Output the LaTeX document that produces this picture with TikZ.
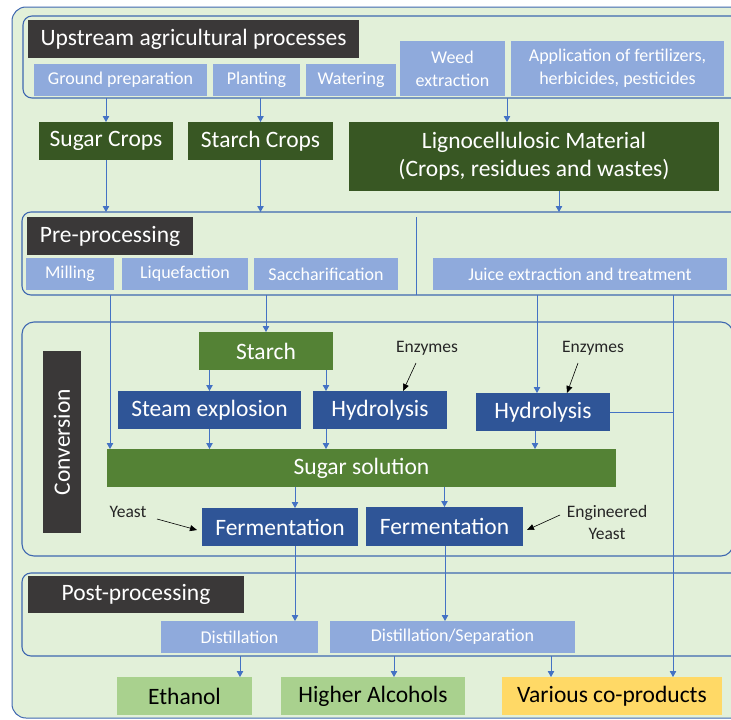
\documentclass[tikz,border=0pt]{standalone}
\usepackage{fontspec}
\setmainfont{Carlito}
\usetikzlibrary{arrows.meta,calc}
\definecolor{bgc}{HTML}{E2F0D9}
\definecolor{bordc}{HTML}{3F68B0}
\definecolor{connc}{HTML}{4472C4}
\definecolor{darkg}{HTML}{3A3838}
\definecolor{lblue}{HTML}{8FAADC}
\definecolor{dgreen}{HTML}{385723}
\definecolor{mgreen}{HTML}{548235}
\definecolor{dblue}{HTML}{2F5597}
\definecolor{lgreen}{HTML}{A9D18E}
\definecolor{yelc}{HTML}{FFD966}
\newcommand\bigf{\fontsize{23.5}{28}\selectfont}
\newcommand\smf{\fontsize{18}{23}\selectfont}
\newcommand\tinyf{\fontsize{17.5}{22}\selectfont}
\tikzset{
  bx/.style={inner sep=0pt, outer sep=0pt, align=center},
  grp/.style={bx, draw=bordc, line width=1.1pt, rounded corners=9pt},
  titlebox/.style={bx, fill=darkg, text=white, font=\bigf},
  lbbox/.style={bx, fill=lblue, text=white, font=\smf},
  dgbox/.style={bx, fill=dgreen, text=white, font=\bigf},
  mgbox/.style={bx, fill=mgreen, text=white, font=\bigf},
  dbbox/.style={bx, fill=dblue, text=white, font=\bigf},
  outbox/.style={bx, fill=lgreen, text=black, font=\bigf},
  yelbox/.style={bx, fill=yelc, text=black, font=\bigf},
  lbl/.style={bx, text=black!85, font=\tinyf},
  arr/.style={draw=connc, line width=0.8pt, -{Triangle[length=6pt,width=6.5pt]}},
  ln/.style={draw=connc, line width=0.8pt},
  barr/.style={draw=black, line width=0.6pt, -{Triangle[length=7pt,width=6pt]}}
}
\begin{document}
\begin{tikzpicture}[x=1pt,y=-1pt]
\useasboundingbox (0,0) rectangle (731,720);
\fill[white] (0,0) rectangle (731,720);
\clip (0,0) rectangle (731,720);
% outer panel
\draw[draw=bordc, fill=bgc, line width=1pt, rounded corners=14pt] (12,7) rectangle (760,718);

% group boxes
\node[grp, minimum width=722pt, minimum height=82pt] (upg) at (384,57) {};
\node[grp, minimum width=723pt, minimum height=83pt] (preg) at (383.5,253.5) {};
\node[grp, rounded corners=12pt, minimum width=711pt, minimum height=234pt] (convg) at (377.5,439) {};
\node[grp, minimum width=723pt, minimum height=83pt] (postg) at (383.5,614.5) {};

% upstream
\node[titlebox, minimum width=331pt, minimum height=38pt] (uptitle) at (193.5,39) {Upstream agricultural processes};
\node[lbbox, minimum width=173pt, minimum height=32pt] (ground) at (120.5,80) {Ground preparation};
\node[lbbox, minimum width=87pt, minimum height=32pt] (plant) at (256.5,80) {Planting};
\node[lbbox, minimum width=90pt, minimum height=32pt] (water) at (351,80) {Watering};
\node[lbbox, minimum width=105pt, minimum height=55pt] (weed) at (452.5,68.5) {Weed\\extraction};
\node[lbbox, minimum width=213pt, minimum height=55pt] (appl) at (617.5,68.5) {Application of fertilizers,\\herbicides, pesticides};

% crops
\node[dgbox, minimum width=134pt, minimum height=38pt] (sugarc) at (106,141) {Sugar Crops};
\node[dgbox, minimum width=145pt, minimum height=38pt] (starchc) at (260.5,141) {Starch Crops};
\node[dgbox, minimum width=370pt, minimum height=69pt] (ligno) at (534,156.5) {Lignocellulosic Material\\(Crops, residues and wastes)};

% pre-processing
\node[titlebox, minimum width=166pt, minimum height=38pt] (pretitle) at (110,236) {Pre-processing};
\node[lbbox, minimum width=88pt, minimum height=32pt] (mill) at (70,274) {Milling};
\node[lbbox, minimum width=126pt, minimum height=32pt] (liq) at (185,274) {Liquefaction};
\node[lbbox, minimum width=144pt, minimum height=32pt] (sacc) at (326,274) {Saccharification};
\node[lbbox, minimum width=294pt, minimum height=32pt] (juice) at (580,274) {Juice extraction and treatment};
\coordinate (divx) at (416,217);
\draw[ln] (divx) -- (divx |- preg.south);

% conversion
\node[titlebox, rotate=90, minimum width=182pt, minimum height=38pt] (convtitle) at (62,442) {Conversion};
\node[mgbox, minimum width=134pt, minimum height=38pt] (starch) at (266,351) {Starch};
\node[dbbox, minimum width=183pt, minimum height=38pt] (steam) at (209.5,410) {Steam explosion};
\node[dbbox, minimum width=134pt, minimum height=38pt] (hyd1) at (380,410) {Hydrolysis};
\node[dbbox, minimum width=134pt, minimum height=38pt] (hyd2) at (543,412) {Hydrolysis};
\node[mgbox, minimum width=509pt, minimum height=38pt] (sugsol) at (361.5,468) {Sugar solution};
\node[dbbox, minimum width=156pt, minimum height=38pt] (ferm1) at (280,527) {Fermentation};
\node[dbbox, minimum width=157pt, minimum height=39pt] (ferm2) at (444.5,526.5) {Fermentation};
\node[lbl] (enz1) at (427,348) {Enzymes};
\node[lbl] (enz2) at (593,348) {Enzymes};
\node[lbl] (yeast) at (128,512) {Yeast};
\node[lbl] (engy) at (607,522) {Engineered\\Yeast};

% post-processing
\node[titlebox, minimum width=216pt, minimum height=37pt] (posttitle) at (136,594.5) {Post-processing};
\node[lbbox, minimum width=157pt, minimum height=32pt] (dist) at (239.5,637) {Distillation};
\node[lbbox, minimum width=245pt, minimum height=32pt] (dsep) at (452.5,637) {Distillation/Separation};

% outputs
\node[outbox, minimum width=135pt, minimum height=38pt] (eth) at (184.5,696) {Ethanol};
\node[outbox, minimum width=184pt, minimum height=38pt] (higher) at (373,696) {Higher Alcohols};
\node[yelbox, minimum width=220pt, minimum height=38pt] (various) at (612,696) {Various co-products};

% connector x positions
\coordinate (xlig) at (507,0);
\coordinate (xlig2) at (559,0);
\coordinate (xmill) at (110,0);
\coordinate (xjuice) at (537,0);
\coordinate (xco) at (673,0);
\coordinate (xh1) at (326,0);
\coordinate (xh2) at (535,0);
\coordinate (xf1) at (295,0);
\coordinate (xf2) at (445,0);
\coordinate (xeth) at (240,0);
\coordinate (xhig) at (394,0);
\coordinate (xvar) at (551,0);

% upstream -> crops
\draw[arr] (sugarc.north |- upg.south) -- (sugarc.north);
\draw[arr] (starchc.north |- upg.south) -- (starchc.north);
\draw[arr] (xlig |- upg.south) -- (xlig |- ligno.north);
% crops -> pre-processing
\draw[arr] (sugarc.south) -- (sugarc.south |- preg.north);
\draw[arr] (starchc.south) -- (starchc.south |- preg.north);
\draw[arr] (xlig2 |- ligno.south) -- (xlig2 |- preg.north);
% pre-processing -> conversion
\draw[arr] (xmill |- preg.south) -- (xmill |- sugsol.north);
\draw[arr] (starch.north |- preg.south) -- (starch.north);
\draw[arr] (xjuice |- preg.south) -- (xjuice |- hyd2.north);
\draw[arr] (xco |- preg.south) -- (xco |- various.north);
\draw[ln] (hyd2.east) -- (hyd2.east -| xco);
% starch -> steam / hydrolysis
\draw[arr] (steam.north |- starch.south) -- (steam.north);
\draw[arr] (xh1 |- starch.south) -- (xh1 |- hyd1.north);
% -> sugar solution
\draw[arr] (steam.south) -- (steam.south |- sugsol.north);
\draw[arr] (xh1 |- hyd1.south) -- (xh1 |- sugsol.north);
\draw[arr] (xh2 |- hyd2.south) -- (xh2 |- sugsol.north);
% sugar solution -> fermentation
\draw[arr] (xf1 |- sugsol.south) -- (xf1 |- ferm1.north);
\draw[arr] (ferm2.north |- sugsol.south) -- (ferm2.north);
% enzymes / yeast
\coordinate (e1a) at (416,363);
\coordinate (e1b) at (403,0);
\draw[barr] (e1a) -- (e1b |- hyd1.north);
\coordinate (e2a) at (578,363);
\coordinate (e2b) at (567,0);
\draw[barr] (e2a) -- (e2b |- hyd2.north);
\coordinate (ya) at (157,519);
\coordinate (yb) at (197,530);
\draw[barr] (ya) -- (yb);
\coordinate (ga) at (560,515);
\coordinate (gb) at (527,530);
\draw[barr] (ga) -- (gb);
% fermentation -> post-processing
\draw[arr] (xf1 |- ferm1.south) -- (xf1 |- dist.north);
\draw[arr] (xf2 |- ferm2.south) -- (xf2 |- dsep.north);
% post-processing -> outputs
\draw[arr] (xeth |- postg.south) -- (xeth |- eth.north);
\draw[arr] (xhig |- postg.south) -- (xhig |- higher.north);
\draw[arr] (xvar |- postg.south) -- (xvar |- various.north);
\end{tikzpicture}
\end{document}
